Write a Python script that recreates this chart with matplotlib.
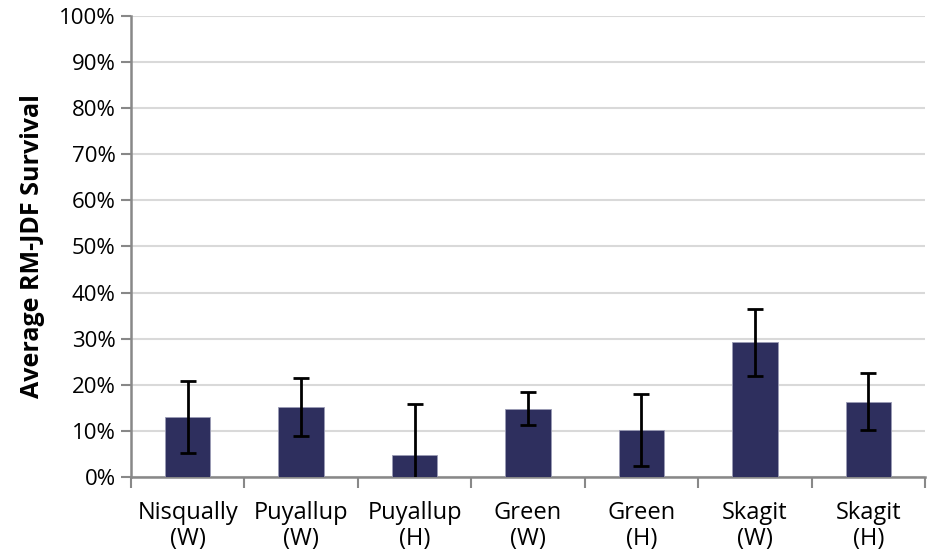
import numpy as np
import matplotlib.pyplot as plt
from matplotlib.ticker import PercentFormatter

# survival estimates (%) and error half-widths per population
populations = ['Nisqually\n(W)', 'Puyallup\n(W)', 'Puyallup\n(H)', 'Green\n(W)',
               'Green\n(H)', 'Skagit\n(W)', 'Skagit\n(H)']
survival = [13.0, 15.2, 4.7, 14.8, 10.1, 29.2, 16.3]
error = [7.9, 6.2, 11.1, 3.6, 7.8, 7.3, 6.2]
y_ticks = list(range(0, 101, 10))

plt.rcParams['font.family'] = ['Open Sans', 'DejaVu Sans']

fig = plt.figure(figsize=(9.28, 5.58), dpi=100)
ax = fig.add_axes([131 / 928, 1 - 477 / 558, 794 / 928, 461 / 558])

x = np.arange(len(populations))
ax.bar(x, survival, width=0.4, color='#2E2F5E', edgecolor='#9A9BB5', linewidth=0.6,
       zorder=3)
ax.errorbar(x, survival, yerr=error, fmt='none', ecolor='black', elinewidth=2,
            capsize=6, capthick=2, zorder=4)

ax.set_xlim(-0.5, len(populations) - 0.5)
ax.set_ylim(0, 100)
ax.set_yticks(y_ticks)
ax.yaxis.set_major_formatter(PercentFormatter(decimals=0))
ax.set_xticks(x)
ax.set_xticklabels(populations, fontsize=17, linespacing=1.15)
ax.set_xticks(np.arange(-0.5, len(populations)), minor=True)
ax.tick_params(axis='x', which='major', length=0, pad=17)
ax.tick_params(axis='x', which='minor', length=8, width=1.5, color='#888888')
ax.tick_params(axis='y', length=7, width=1.5, color='#888888', labelsize=16, pad=4)

ax.grid(axis='y', color='#D9D9D9', linewidth=1.5, zorder=0)
for side in ['top', 'right']:
    ax.spines[side].set_visible(False)
for side in ['left', 'bottom']:
    ax.spines[side].set_color('#888888')
    ax.spines[side].set_linewidth(1.8)

ax.set_ylabel('Average RM-JDF Survival', fontsize=18, fontweight='bold', labelpad=10)

fig.savefig('out.png', dpi=100)
